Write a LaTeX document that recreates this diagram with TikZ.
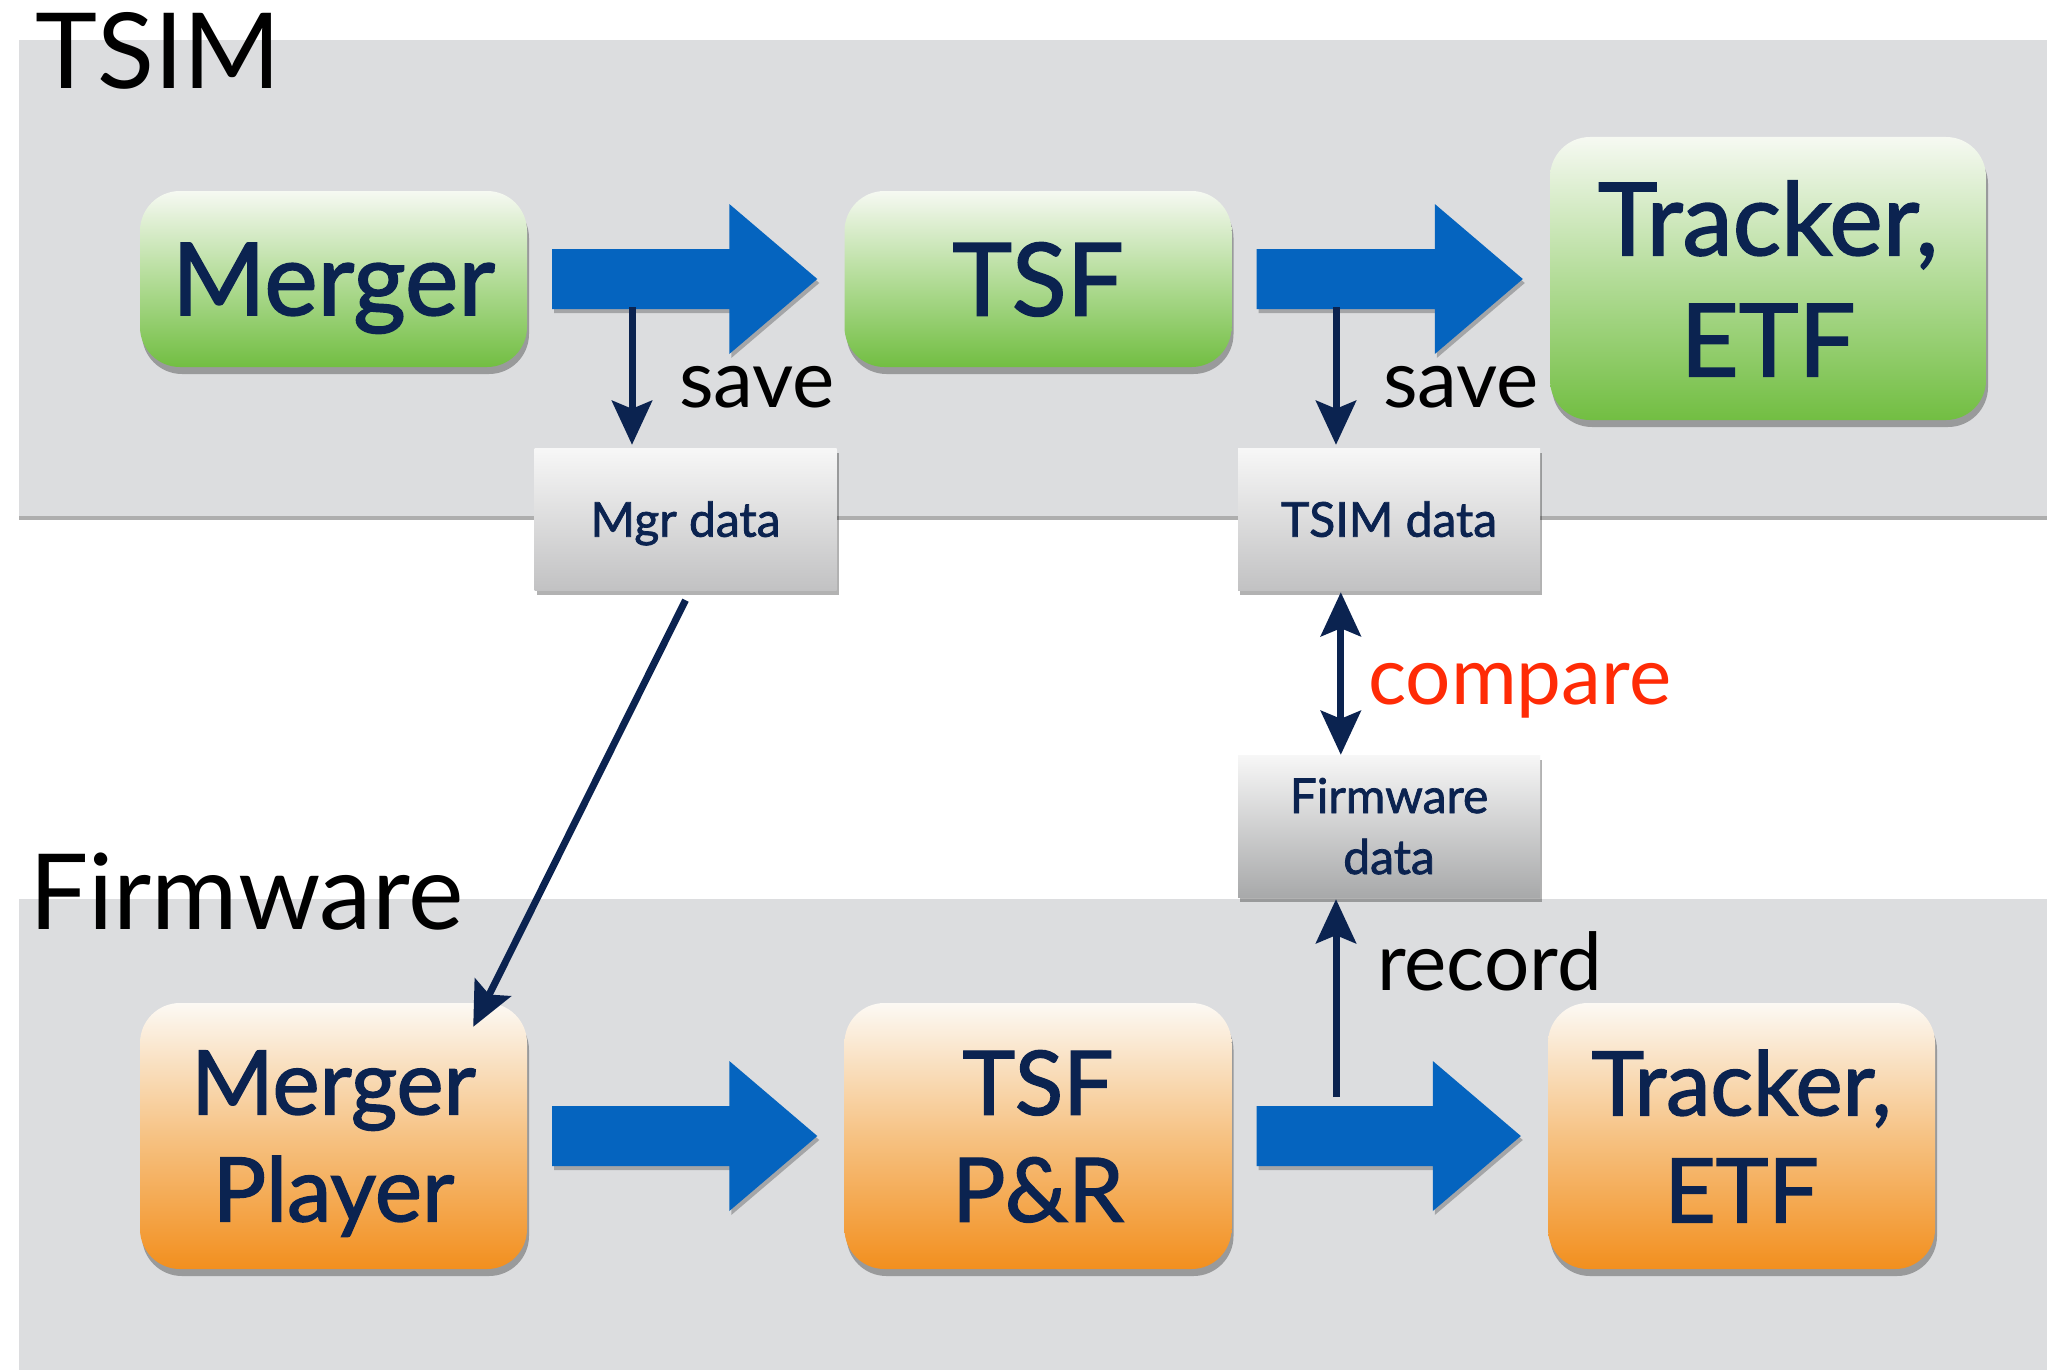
\documentclass[tikz,border=0pt]{standalone}
\usepackage{fontspec}
\setmainfont{Lato}
\newfontfamily\boxfont{Lato}[FakeBold=1.6]
\usetikzlibrary{arrows.meta,calc,shadows}
\definecolor{panelgray}{HTML}{DCDDDF}
\definecolor{gtop}{HTML}{F6F9F2}
\definecolor{gmid}{HTML}{B3DC98}
\definecolor{gbot}{HTML}{72BE42}
\definecolor{otop}{HTML}{FCF9F4}
\definecolor{omid}{HTML}{F6C283}
\definecolor{obot}{HTML}{F28F1E}
\definecolor{fatblue}{HTML}{0564BF}
\definecolor{navy}{HTML}{0B2350}
\definecolor{dtop}{HTML}{F7F7F7}
\definecolor{dbot}{HTML}{C2C2C3}
\definecolor{fwbot}{HTML}{A8A9AA}
\definecolor{cred}{HTML}{FF2B06}
\tikzset{
  panel/.style={fill=panelgray, draw=none, anchor=north west, inner sep=0pt,
    drop shadow={shadow xshift=0pt, shadow yshift=-4pt, opacity=.45, fill=black!70}},
  boxbase/.style={rounded corners=40pt, inner sep=0pt, text=navy, align=center,
    text depth=0pt,
    drop shadow={shadow xshift=2pt, shadow yshift=-7pt, opacity=.3, fill=black}},
  gbox/.style={boxbase, top color=gtop, bottom color=gbot, middle color=gmid,
    minimum width=387pt, minimum height=176pt, font=\boxfont\fontsize{101}{121}\selectfont},
  obox/.style={boxbase, top color=otop, bottom color=obot, middle color=omid,
    minimum width=387pt, minimum height=266pt, font=\boxfont\fontsize{89}{107}\selectfont},
  dbox/.style={minimum width=302pt, minimum height=142pt, inner sep=0pt,
    top color=dtop, bottom color=dbot, text=navy, align=center, text depth=0pt,
    font=\boxfont\fontsize{48}{61}\selectfont,
    drop shadow={shadow xshift=2pt, shadow yshift=-5pt, opacity=.3, fill=black}},
  fat/.style={fill=fatblue, drop shadow={shadow xshift=2pt, shadow yshift=-4pt, opacity=.25, fill=black}},
  thin/.style={draw=navy, line width=7pt, -{Stealth[length=44pt, width=40pt, inset=8pt]}},
  lab/.style={anchor=base west, inner sep=0pt, font=\fontsize{80}{90}\selectfont},
  title/.style={anchor=base west, inner sep=0pt, font=\fontsize{105}{110}\selectfont}
}
\newcommand\fatarrow[2]{%
  \fill[fat] let \p1=($(#1.east)+(25,0)$), \p2=($(#2.west)+(-27,0)$) in
    (\x1,\y1+30pt) -- (\x2-88pt,\y1+30pt) -- (\x2-88pt,\y1+75pt) -- (\x2,\y1)
    -- (\x2-88pt,\y1-75pt) -- (\x2-88pt,\y1-30pt) -- (\x1,\y1-30pt) -- cycle;}
\begin{document}
\begin{tikzpicture}[x=1pt,y=-1pt]
\useasboundingbox[fill=white] (0,0) rectangle (2047,1370);
% panels
\node[panel, minimum width=2040pt, minimum height=476pt] (tsimpanel) at (19,40) {};
\node[panel, minimum width=2040pt, minimum height=480pt] (fwpanel) at (19,899) {};
\node[title] (tsimlab) at (35,89) {TSIM};
\node[title] (fwlab) at (29,929) {Firmware};
% boxes
\node[gbox] (merger) at (333.5,279) {Merger};
\node[gbox] (tsf) at (1038,279) {TSF};
\node[gbox, minimum width=436pt, minimum height=283pt] (trk) at (1768,278.5) {Tracker,\\ETF};
\node[obox] (mp) at (333.5,1136) {Merger\\Player};
\node[obox] (tsfpr) at (1038,1136) {TSF\\P\&R};
\node[obox] (trkfw) at (1741.5,1136) {Tracker,\\ETF};
% fat arrows
\fatarrow{merger}{tsf}
\fatarrow{tsf}{trk}
\fatarrow{mp}{tsfpr}
\fatarrow{tsfpr}{trkfw}
% data boxes
\node[dbox] (mgrd) at (685.5,519) {Mgr data};
\node[dbox] (tsimd) at (1389,519) {TSIM data};
\node[dbox, bottom color=fwbot] (fwd) at (1389,826) {Firmware\\data};
% thin connectors
\coordinate (s1) at (632,307);
\coordinate (s2) at (1336,307);
\coordinate (r0) at (1336,1097);
\draw[thin, shorten >=3pt] (s1) -- (s1 |- mgrd.north);
\draw[thin, shorten >=3pt] (s2) -- (s2 |- tsimd.north);
\draw[thin, {Stealth[length=44pt, width=40pt, inset=8pt]}-{Stealth[length=44pt, width=40pt, inset=8pt]}]
  ($(tsimd.south west)+(103,2)$) -- ($(fwd.north west)+(103,0)$);
\draw[thin, shorten >=2pt] (r0) -- (r0 |- fwd.south);
\draw[thin] ($(mgrd.south)+(0,10)$) -- ($(mp.north east)+(-54,24)$);
% labels
\node[lab] (save1) at (679,407) {save};
\node[lab] (save2) at (1383,407) {save};
\node[lab, text=cred] (cmp) at (1368,704) {compare};
\node[lab] (rec) at (1377,990) {record};
\end{tikzpicture}
\end{document}
